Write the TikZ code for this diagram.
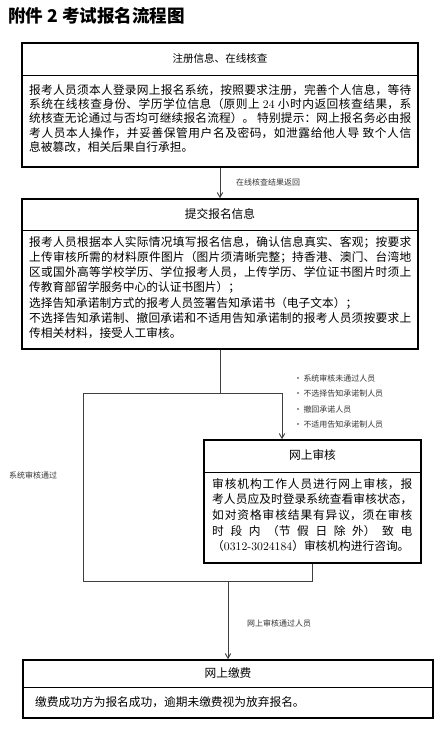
\documentclass[tikz,border=0pt]{standalone}
\usepackage{fontspec}
\newfontfamily\cjk{Noto Sans CJK SC}
\XeTeXlinebreaklocale "zh"
\XeTeXlinebreakskip=0pt plus 1pt
\tolerance=9999
\usetikzlibrary{arrows}

\begin{document}
\begin{tikzpicture}[x=0.03cm,y=-0.03cm,
  frame/.style={draw, line width=1.4pt, inner sep=0pt},
  divide/.style={line width=0.6pt},
  head/.style={inner sep=0pt, font=\cjk\fontsize{10}{12}\selectfont},
  body/.style={anchor=north west, inner sep=0pt, align=justify},
  link/.style={draw=black!75, line width=0.8pt, >=angle 60},
  note/.style={anchor=west, inner sep=0pt, text=black!80, font=\cjk\fontsize{6.8}{8}\selectfont}]
\useasboundingbox (0,0) rectangle (439,729);

\node[anchor=west, inner sep=0pt, font=\cjk\bfseries\fontsize{15}{15}\selectfont] (T) at (8,16) {附件 2 考试报名流程图};

\node[frame, minimum width=11.88cm, minimum height=3.72cm] (A) at (220,105) {};
\node[frame, minimum width=11.88cm, minimum height=4.5cm] (B) at (220,274) {};
\node[frame, minimum width=6.51cm, minimum height=3.69cm] (C) at (312.5,501.5) {};
\node[frame, minimum width=12.3cm, minimum height=1.74cm] (D) at (228,689) {};

\draw[divide] (22,75) -- (418,75);
\draw[divide] (22,230) -- (418,230);
\draw[divide] (204,472) -- (421,472);
\draw[divide] (23,687) -- (433,687);

\node[head, font=\cjk\fontsize{9}{11}\selectfont] (a) at (220,58) {注册信息、在线核查};
\node[body, text width=11.46cm, font=\cjk\fontsize{10}{12.2}\selectfont] (a1) at (29,84) {报考人员须本人登录网上报名系统，按照要求注册，完善个人信息，等待\linebreak
系统在线核查身份、学历学位信息（原则上 {\rmfamily 24} 小时内返回核查结果，系\linebreak
统核查无论通过与否均可继续报名流程）。 特别提示：网上报名务必由报\linebreak
考人员本人操作，并妥善保管用户名及密码，如泄露给他人导 致个人信\linebreak
息被篡改，相关后果自行承担。};

\node[head] (b) at (220,214) {提交报名信息};
\node[body, text width=11.46cm, font=\cjk\fontsize{10}{13}\selectfont] (b1) at (29,236) {报考人员根据本人实际情况填写报名信息，确认信息真实、客观；按要求\linebreak
上传审核所需的材料原件图片（图片须清晰完整；持香港、澳门、台湾地\linebreak
区或国外高等学校学历、学位报考人员，上传学历、学位证书图片时须上\linebreak
传教育部留学服务中心的认证书图片）；\par
选择告知承诺制方式的报考人员签署告知承诺书（电子文本）；\par
不选择告知承诺制、撤回承诺和不适用告知承诺制的报考人员须按要求上\linebreak
传相关材料，接受人工审核。};

\node[head] (c) at (312.5,455) {网上审核};
\node[body, text width=6cm, font=\cjk\fontsize{10}{13.4}\selectfont] (c1) at (212,478) {审核机构工作人员进行网上审核，报\linebreak
考人员应及时登录系统查看审核状态，\linebreak
如对资格审核结果有异议，须在审核\linebreak
时段内（节假日除外）致电\linebreak
\mbox{（{\rmfamily 0312-3024184}）审核机构进行咨询。}};

\node[head] (d) at (228,673) {网上缴费};
\node[anchor=west, inner sep=0pt, font=\cjk\fontsize{10}{12}\selectfont] (d1) at (35,702) {缴费成功方为报名成功，逾期未缴费视为放弃报名。};

\coordinate (J) at (220,393);
\coordinate (L) at (83,393);
\coordinate (R) at (282,393);
\coordinate (K) at (83,581);

\draw[link,->] (A) -- (B);
\draw[link] (B.south) -- (J);
\draw[link] (L) -- (R);
\draw[link,->] (R) -- (R |- C.north);
\draw[link] (L) -- (K);
\draw[link] (C.south) |- (K);
\draw[link,->] (D.north |- K) -- (D.north);

\node[note] (n0) at (236,182) {在线核查结果返回};
\foreach \t [count=\i] in {系统审核未通过人员,不选择告知承诺制人员,撤回承诺人员,不适用告知承诺制人员}
  \node[note] (n\i) at (294,362.5+15.6*\i) {•\,\t};
\node[note] (n5) at (9,475) {系统审核通过};
\node[note] (n6) at (247,623) {网上审核通过人员};
\end{tikzpicture}
\end{document}
